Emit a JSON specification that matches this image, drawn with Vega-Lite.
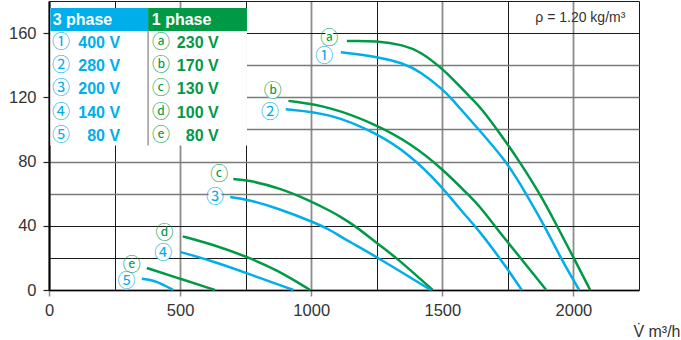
{
  "$schema": "https://vega.github.io/schema/vega-lite/v6.json",
  "width": 590,
  "height": 289,
  "autosize": {"type": "none"},
  "padding": {"left": 49, "top": 1, "right": 42, "bottom": 50},
  "config": {"view": {"stroke": null}, "font": "Liberation Sans"},
  "datasets": {
    "box": [{"x": 5, "x2": 755, "y": 90, "y2": 175.7}],
    "headers": [
      {"p": "3 phase", "x": 5, "x2": 378, "y": 161.3, "y2": 175.7},
      {"p": "1 phase", "x": 378, "x2": 755, "y": 161.3, "y2": 175.7}
    ],
    "headerText": [
      {"p": "3 phase", "x": 14, "y": 168.3},
      {"p": "1 phase", "x": 392, "y": 168.3}
    ],
    "divider": [{"x": 378, "y": 90, "y2": 161.3}],
    "legendSym": [
      {"p": "3 phase", "s": "①", "x": 46, "y": 154},
      {"p": "3 phase", "s": "②", "x": 46, "y": 139.5},
      {"p": "3 phase", "s": "③", "x": 46, "y": 125},
      {"p": "3 phase", "s": "④", "x": 46, "y": 110.5},
      {"p": "3 phase", "s": "⑤", "x": 46, "y": 96},
      {"p": "1 phase", "s": "ⓐ", "x": 427, "y": 154},
      {"p": "1 phase", "s": "ⓑ", "x": 427, "y": 139.5},
      {"p": "1 phase", "s": "ⓒ", "x": 427, "y": 125},
      {"p": "1 phase", "s": "ⓓ", "x": 427, "y": 110.5},
      {"p": "1 phase", "s": "ⓔ", "x": 427, "y": 96}
    ],
    "legendVolt": [
      {"p": "3 phase", "v": "400 V", "x": 271, "y": 154},
      {"p": "3 phase", "v": "280 V", "x": 271, "y": 139.5},
      {"p": "3 phase", "v": "200 V", "x": 271, "y": 125},
      {"p": "3 phase", "v": "140 V", "x": 271, "y": 110.5},
      {"p": "3 phase", "v": "80 V", "x": 271, "y": 96},
      {"p": "1 phase", "v": "230 V", "x": 647, "y": 154},
      {"p": "1 phase", "v": "170 V", "x": 647, "y": 139.5},
      {"p": "1 phase", "v": "130 V", "x": 647, "y": 125},
      {"p": "1 phase", "v": "100 V", "x": 647, "y": 110.5},
      {"p": "1 phase", "v": "80 V", "x": 647, "y": 96}
    ],
    "curves": [
      {"c": "a", "p": "1 phase", "x": 1136, "y": 155.1},
      {"c": "a", "p": "1 phase", "x": 1250, "y": 155.3},
      {"c": "a", "p": "1 phase", "x": 1352, "y": 152.6},
      {"c": "a", "p": "1 phase", "x": 1416, "y": 148.5},
      {"c": "a", "p": "1 phase", "x": 1498, "y": 138.1},
      {"c": "a", "p": "1 phase", "x": 1543, "y": 130.9},
      {"c": "a", "p": "1 phase", "x": 1612, "y": 119},
      {"c": "a", "p": "1 phase", "x": 1644, "y": 114.3},
      {"c": "a", "p": "1 phase", "x": 1746, "y": 91.5},
      {"c": "a", "p": "1 phase", "x": 1794, "y": 80},
      {"c": "a", "p": "1 phase", "x": 1873, "y": 59.7},
      {"c": "a", "p": "1 phase", "x": 1937, "y": 40},
      {"c": "a", "p": "1 phase", "x": 2000, "y": 20.3},
      {"c": "a", "p": "1 phase", "x": 2064, "y": 0},
      {"c": "1", "p": "3 phase", "x": 1113, "y": 148.1},
      {"c": "1", "p": "3 phase", "x": 1250, "y": 145.4},
      {"c": "1", "p": "3 phase", "x": 1352, "y": 141.3},
      {"c": "1", "p": "3 phase", "x": 1416, "y": 136},
      {"c": "1", "p": "3 phase", "x": 1504, "y": 124.6},
      {"c": "1", "p": "3 phase", "x": 1536, "y": 119},
      {"c": "1", "p": "3 phase", "x": 1606, "y": 106},
      {"c": "1", "p": "3 phase", "x": 1746, "y": 80},
      {"c": "1", "p": "3 phase", "x": 1810, "y": 62.4},
      {"c": "1", "p": "3 phase", "x": 1890, "y": 40},
      {"c": "1", "p": "3 phase", "x": 1950, "y": 20.3},
      {"c": "1", "p": "3 phase", "x": 2022, "y": 0},
      {"c": "b", "p": "1 phase", "x": 913, "y": 117.8},
      {"c": "b", "p": "1 phase", "x": 1072, "y": 114.3},
      {"c": "b", "p": "1 phase", "x": 1250, "y": 102.9},
      {"c": "b", "p": "1 phase", "x": 1377, "y": 91.5},
      {"c": "b", "p": "1 phase", "x": 1498, "y": 75.9},
      {"c": "b", "p": "1 phase", "x": 1606, "y": 58.2},
      {"c": "b", "p": "1 phase", "x": 1644, "y": 52},
      {"c": "b", "p": "1 phase", "x": 1746, "y": 30.2},
      {"c": "b", "p": "1 phase", "x": 1797, "y": 20.3},
      {"c": "b", "p": "1 phase", "x": 1896, "y": 0},
      {"c": "2", "p": "3 phase", "x": 903, "y": 112.6},
      {"c": "2", "p": "3 phase", "x": 1072, "y": 110.1},
      {"c": "2", "p": "3 phase", "x": 1250, "y": 97.7},
      {"c": "2", "p": "3 phase", "x": 1377, "y": 84.2},
      {"c": "2", "p": "3 phase", "x": 1498, "y": 64.5},
      {"c": "2", "p": "3 phase", "x": 1568, "y": 50},
      {"c": "2", "p": "3 phase", "x": 1644, "y": 36.5},
      {"c": "2", "p": "3 phase", "x": 1746, "y": 13.7},
      {"c": "2", "p": "3 phase", "x": 1803, "y": 0},
      {"c": "c", "p": "1 phase", "x": 703, "y": 69.1},
      {"c": "c", "p": "1 phase", "x": 754, "y": 68.6},
      {"c": "c", "p": "1 phase", "x": 881, "y": 63.5},
      {"c": "c", "p": "1 phase", "x": 1002, "y": 55.1},
      {"c": "c", "p": "1 phase", "x": 1072, "y": 49.3},
      {"c": "c", "p": "1 phase", "x": 1110, "y": 45.8},
      {"c": "c", "p": "1 phase", "x": 1167, "y": 40},
      {"c": "c", "p": "1 phase", "x": 1250, "y": 29.2},
      {"c": "c", "p": "1 phase", "x": 1327, "y": 19.9},
      {"c": "c", "p": "1 phase", "x": 1463, "y": 0},
      {"c": "3", "p": "3 phase", "x": 691, "y": 57.9},
      {"c": "3", "p": "3 phase", "x": 754, "y": 56.6},
      {"c": "3", "p": "3 phase", "x": 881, "y": 50.4},
      {"c": "3", "p": "3 phase", "x": 1002, "y": 42.7},
      {"c": "3", "p": "3 phase", "x": 1072, "y": 37.5},
      {"c": "3", "p": "3 phase", "x": 1110, "y": 33.4},
      {"c": "3", "p": "3 phase", "x": 1167, "y": 28.2},
      {"c": "3", "p": "3 phase", "x": 1250, "y": 20.5},
      {"c": "3", "p": "3 phase", "x": 1456, "y": 0},
      {"c": "d", "p": "1 phase", "x": 510, "y": 33.4},
      {"c": "d", "p": "1 phase", "x": 627, "y": 28.2},
      {"c": "d", "p": "1 phase", "x": 752, "y": 20.9},
      {"c": "d", "p": "1 phase", "x": 869, "y": 12.6},
      {"c": "d", "p": "1 phase", "x": 996, "y": 0},
      {"c": "4", "p": "3 phase", "x": 502, "y": 23.6},
      {"c": "4", "p": "3 phase", "x": 627, "y": 17.8},
      {"c": "4", "p": "3 phase", "x": 752, "y": 10.6},
      {"c": "4", "p": "3 phase", "x": 932, "y": 0},
      {"c": "e", "p": "1 phase", "x": 373, "y": 13.7},
      {"c": "e", "p": "1 phase", "x": 500, "y": 7},
      {"c": "e", "p": "1 phase", "x": 633, "y": 0},
      {"c": "5", "p": "3 phase", "x": 354, "y": 7},
      {"c": "5", "p": "3 phase", "x": 398, "y": 6},
      {"c": "5", "p": "3 phase", "x": 436, "y": 3.3},
      {"c": "5", "p": "3 phase", "x": 474, "y": 0}
    ],
    "labels": [
      {"p": "1 phase", "s": "ⓐ", "x": 1069, "y": 156.2},
      {"p": "3 phase", "s": "①", "x": 1050, "y": 145},
      {"p": "1 phase", "s": "ⓑ", "x": 853, "y": 123.2},
      {"p": "3 phase", "s": "②", "x": 843, "y": 110.1},
      {"p": "1 phase", "s": "ⓒ", "x": 649, "y": 71.7},
      {"p": "3 phase", "s": "③", "x": 633, "y": 57.6},
      {"p": "1 phase", "s": "ⓓ", "x": 440, "y": 34.8},
      {"p": "3 phase", "s": "④", "x": 436, "y": 22.4},
      {"p": "1 phase", "s": "ⓔ", "x": 316, "y": 15.1},
      {"p": "3 phase", "s": "⑤", "x": 296, "y": 4.7}
    ],
    "note": [{"t": "ρ = 1.20 kg/m³", "x": 2198, "y": 169.4}]
  },
  "encoding": {
    "x": {
      "field": "x",
      "type": "quantitative",
      "scale": {"domain": [0, 2250], "nice": false, "zero": false},
      "axis": {
        "values": [0, 250, 500, 750, 1000, 1250, 1500, 1750, 2000, 2250],
        "format": "d",
        "labelExpr": "datum.value % 500 === 0 ? datum.label : ''",
        "title": "V̇ m³/h",
        "grid": true,
        "gridColor": {"condition": {"test": "datum.value % 500 === 0", "value": "#8c8c8c"}, "value": "#1a1a1a"},
        "gridWidth": {"condition": {"test": "datum.value % 500 === 0", "value": 1.8}, "value": 1},
        "tickOpacity": {"condition": {"test": "datum.value % 500 === 0", "value": 1}, "value": 0},
        "tickColor": "#888",
        "tickSize": 6,
        "tickWidth": 1.5,
        "domainColor": "#000",
        "domainWidth": 1.5,
        "labelFont": "Liberation Sans",
        "labelFontSize": 16.5,
        "labelColor": "#333",
        "labelPadding": 6,
        "labelFlush": false,
        "labelOverlap": false,
        "titleFont": "Liberation Sans",
        "titleFontSize": 16,
        "titleFontWeight": "normal",
        "titleColor": "#333",
        "titleX": 631,
        "titleY": 46,
        "titleAlign": "right",
        "titleAnchor": "end",
        "titleBaseline": "alphabetic"
      }
    },
    "y": {
      "field": "y",
      "type": "quantitative",
      "scale": {"domain": [0, 180], "nice": false, "zero": false},
      "axis": {
        "values": [0, 20, 40, 60, 80, 100, 120, 140, 160, 180],
        "format": "d",
        "labelExpr": "datum.value % 40 === 0 && datum.value < 180 ? datum.label : ''",
        "title": null,
        "grid": true,
        "gridColor": {"condition": {"test": "datum.value === 20 || datum.value === 40 || datum.value >= 160", "value": "#1a1a1a"}, "value": "#7a7a7a"},
        "gridWidth": {"condition": {"test": "datum.value === 20 || datum.value === 40 || datum.value >= 160", "value": 1}, "value": 1.6},
        "tickOpacity": {"condition": {"test": "datum.value % 40 === 0 && datum.value < 180", "value": 1}, "value": 0},
        "tickColor": "#222",
        "tickSize": 6,
        "tickWidth": 1.2,
        "domainColor": "#000",
        "domainWidth": 2,
        "labelFont": "Liberation Sans",
        "labelFontSize": 16.5,
        "labelColor": "#333",
        "labelPadding": 7,
        "labelOverlap": false
      }
    }
  },
  "layer": [
    {
      "data": {"name": "box"},
      "mark": {"type": "rect", "color": "#ffffff"},
      "encoding": {"x2": {"field": "x2"}, "y2": {"field": "y2"}}
    },
    {
      "data": {"name": "headers"},
      "mark": {"type": "rect"},
      "encoding": {
        "x2": {"field": "x2"},
        "y2": {"field": "y2"},
        "color": {"field": "p", "type": "nominal", "scale": {"domain": ["3 phase", "1 phase"], "range": ["#00AEEA", "#009A46"]}, "legend": null}
      }
    },
    {
      "data": {"name": "divider"},
      "mark": {"type": "rule", "color": "#9a9a9a", "strokeWidth": 1.5},
      "encoding": {"y2": {"field": "y2"}}
    },
    {
      "data": {"name": "headerText"},
      "mark": {"type": "text", "align": "left", "baseline": "middle", "font": "Liberation Sans", "fontWeight": "bold", "fontSize": 16, "color": "#ffffff"},
      "encoding": {"text": {"field": "p"}}
    },
    {
      "data": {"name": "legendSym"},
      "mark": {"type": "text", "align": "center", "baseline": "middle", "font": "Noto Sans CJK JP", "fontSize": 18},
      "encoding": {
        "text": {"field": "s"},
        "color": {"field": "p", "type": "nominal", "legend": null}
      }
    },
    {
      "data": {"name": "legendVolt"},
      "mark": {"type": "text", "align": "right", "baseline": "middle", "font": "Liberation Sans", "fontWeight": "bold", "fontSize": 16},
      "encoding": {
        "text": {"field": "v"},
        "color": {"field": "p", "type": "nominal", "legend": null}
      }
    },
    {
      "data": {"name": "curves"},
      "mark": {"type": "line", "interpolate": "basis", "strokeWidth": 2.5},
      "encoding": {
        "color": {"field": "p", "type": "nominal", "legend": null},
        "detail": {"field": "c"},
        "order": {"field": "x", "type": "quantitative"}
      }
    },
    {
      "data": {"name": "labels"},
      "mark": {"type": "point", "shape": "circle", "filled": true, "color": "#ffffff", "opacity": 1, "size": 200},
      "encoding": {}
    },
    {
      "data": {"name": "labels"},
      "mark": {"type": "text", "align": "center", "baseline": "middle", "font": "Noto Sans CJK JP", "fontSize": 18},
      "encoding": {
        "text": {"field": "s"},
        "color": {"field": "p", "type": "nominal", "legend": null}
      }
    },
    {
      "data": {"name": "note"},
      "mark": {"type": "text", "align": "right", "baseline": "middle", "font": "Liberation Sans", "fontSize": 14, "color": "#333"},
      "encoding": {"text": {"field": "t"}}
    }
  ]
}
